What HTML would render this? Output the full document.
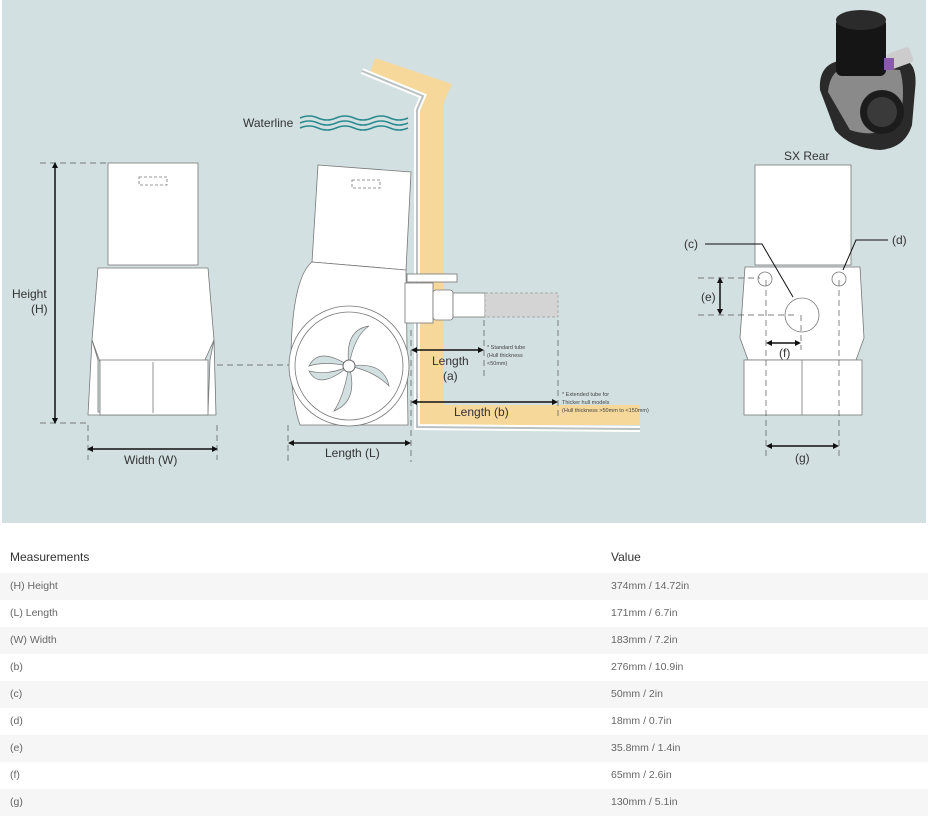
<!DOCTYPE html>
<html><head><meta charset="utf-8"><style>
body{margin:0;width:928px;height:820px;background:#fff;font-family:"Liberation Sans",sans-serif;overflow:hidden}
.tbl{position:absolute;left:0;top:543px;width:928px}
.row{height:27px;line-height:27px;font-size:10.5px;color:#666;position:relative}
.row span{position:absolute;left:10px}
.row b{position:absolute;left:611px;font-weight:normal}
.sh{background:#f6f6f6}
.hd{font-size:12px;color:#333;height:30px;line-height:28px}
</style></head><body>
<svg width="928" height="524" style="position:absolute;left:0;top:0" font-family="Liberation Sans, sans-serif">
<rect x="2" y="0" width="924" height="523" fill="#d3e0e1"/>
<!-- hull yellow band -->
<polygon points="375,58 452,84 444,102 444,405 640,405 640,425 419,425 419,96 370,72" fill="#f5d89a"/>
<polyline points="362,71 423,96 417,110 417,427 640,429" fill="none" stroke="#fff" stroke-width="6"/>
<polyline points="362,71 423,96 417,110 417,427 640,429" fill="none" stroke="#b8c0c2" stroke-width="2"/>
<!-- waves -->
<g fill="none" stroke="#2a8a8f" stroke-width="1.6">
<path d="M300,118 q9,-4 18,0 t18,0 t18,0 t18,0 t18,0 t18,0"/>
<path d="M300,123 q9,-4 18,0 t18,0 t18,0 t18,0 t18,0 t18,0"/>
<path d="M300,128 q9,-4 18,0 t18,0 t18,0 t18,0 t18,0 t18,0"/>
</g>
<text x="243" y="127" font-size="12" fill="#333">Waterline</text>
<!-- left view -->
<g stroke="#777" stroke-width="0.8" fill="#fff">
<rect x="108" y="163" width="90" height="102"/>
<path d="M98,268 L208,268 L214,340 L204,362 L100,362 L92,340 Z"/>
<path d="M92,340 L98,360 L98,412 L208,412 L210,360 L214,340 L216,415 L88,415 Z"/>
<rect x="100" y="360" width="108" height="55"/>
</g>
<rect x="139" y="177" width="28" height="8" fill="none" stroke="#777" stroke-dasharray="3,2" stroke-width="0.8"/>
<line x1="153" y1="362" x2="153" y2="413" stroke="#777" stroke-width="0.8"/>
<g stroke="#555" stroke-width="0.7" stroke-dasharray="6,4">
<line x1="40" y1="163" x2="108" y2="163"/><line x1="40" y1="423" x2="88" y2="423"/>
<line x1="88" y1="425" x2="88" y2="460"/><line x1="217" y1="425" x2="217" y2="460"/>
<line x1="217" y1="365" x2="300" y2="365"/>
</g>
<g stroke="#111" stroke-width="1.5"><line x1="55" y1="166" x2="55" y2="420"/><line x1="91" y1="449" x2="214" y2="449"/></g>
<g fill="#111"><path d="M55,162 l-3,6 h6z"/><path d="M55,424 l-3,-6 h6z"/><path d="M87,449 l6,-3 v6z"/><path d="M218,449 l-6,-3 v6z"/></g>
<text x="12" y="298" font-size="12" fill="#333">Height</text><text x="31" y="313" font-size="12" fill="#333">(H)</text>
<text x="124" y="464" font-size="12" fill="#333">Width (W)</text>
<!-- middle view -->
<g stroke="#777" stroke-width="0.8" fill="#fff">
<polygon points="318,165 411,172 406,270 312,262"/>
<path d="M312,262 L406,270 L408,425 L300,425 Q288,390 292,330 Q296,275 312,262Z"/>
<circle cx="349" cy="366" r="60"/>
<circle cx="349" cy="366" r="54"/>
<rect x="405" y="283" width="28" height="40"/>
<rect x="433" y="290" width="20" height="30" rx="3"/>
<rect x="453" y="293" width="32" height="24"/>
<rect x="407" y="274" width="50" height="8"/>
</g>
<rect x="485" y="293" width="73" height="24" fill="#d4d4d4" stroke="#999" stroke-dasharray="3,2" stroke-width="0.7"/>
<rect x="352" y="180" width="28" height="8" fill="none" stroke="#777" stroke-dasharray="3,2" stroke-width="0.8"/>
<g fill="#d3e0e1" stroke="#777" stroke-width="0.7">
<path d="M349,366 q-30,-20 -40,0 q15,-5 40,0z"/>
<path d="M349,366 q-5,-36 20,-40 q-15,10 -20,40z"/>
<path d="M349,366 q35,-5 40,20 q-15,-15 -40,-20z"/>
<path d="M349,366 q10,35 -15,45 q10,-15 15,-45z"/>
<path d="M349,366 q-30,25 -40,5 q20,5 40,-5z"/>
</g>
<circle cx="349" cy="366" r="6" fill="#fff" stroke="#666"/>
<g stroke="#555" stroke-width="0.7" stroke-dasharray="6,4">
<line x1="288" y1="425" x2="288" y2="462"/><line x1="411" y1="330" x2="411" y2="462"/>
<line x1="484" y1="320" x2="484" y2="378"/><line x1="558" y1="320" x2="558" y2="420"/>
</g>
<g stroke="#111" stroke-width="1.5"><line x1="414" y1="350" x2="481" y2="350"/><line x1="414" y1="402" x2="554" y2="402"/><line x1="292" y1="443" x2="407" y2="443"/></g>
<g fill="#111"><path d="M411,350 l6,-3 v6z"/><path d="M484,350 l-6,-3 v6z"/><path d="M411,402 l6,-3 v6z"/><path d="M558,402 l-6,-3 v6z"/><path d="M288,443 l6,-3 v6z"/><path d="M411,443 l-6,-3 v6z"/></g>
<text x="432" y="365" font-size="12" fill="#333">Length</text><text x="443" y="380" font-size="12" fill="#333">(a)</text>
<text x="454" y="416" font-size="12" fill="#333">Length (b)</text>
<text x="325" y="457" font-size="12" fill="#333">Length (L)</text>
<g font-size="5.5" fill="#444"><text x="487" y="349">* Standard tube</text><text x="487" y="357">(Hull thickness</text><text x="487" y="365">&lt;50mm)</text>
<text x="562" y="396">* Extended tube for</text><text x="562" y="404">Thicker hull models</text><text x="562" y="412">(Hull thickness &gt;50mm to &lt;150mm)</text></g>
<!-- right view -->
<text x="784" y="160" font-size="12" fill="#333">SX Rear</text>
<g stroke="#777" stroke-width="0.8" fill="#fff">
<rect x="755" y="165" width="96" height="100"/>
<path d="M745,267 L860,267 L864,338 L856,360 L748,360 L740,338 Z"/>
<rect x="744" y="360" width="118" height="55"/>
<circle cx="765" cy="279" r="7"/><circle cx="839" cy="279" r="7"/><circle cx="802" cy="315" r="17"/>
</g>
<line x1="802" y1="360" x2="802" y2="415" stroke="#777" stroke-width="0.8"/>
<g stroke="#555" stroke-width="0.7" stroke-dasharray="6,4">
<line x1="766" y1="280" x2="766" y2="460"/><line x1="839" y1="280" x2="839" y2="460"/>
<line x1="801" y1="315" x2="801" y2="350"/>
<line x1="698" y1="278" x2="760" y2="278"/><line x1="698" y1="315" x2="795" y2="315"/>
</g>
<g stroke="#111" stroke-width="1.5" fill="none">
<line x1="720" y1="281" x2="720" y2="311"/><line x1="769" y1="343" x2="798" y2="343"/><line x1="769" y1="446" x2="835" y2="446"/>
<polyline points="705,244 762,244 793,297" stroke-width="1"/><polyline points="888,240 856,240 843,270" stroke-width="1"/>
</g>
<g fill="#111"><path d="M720,277 l-3,6 h6z"/><path d="M720,315 l-3,-6 h6z"/><path d="M766,343 l6,-3 v6z"/><path d="M801,343 l-6,-3 v6z"/><path d="M766,446 l6,-3 v6z"/><path d="M839,446 l-6,-3 v6z"/></g>
<g font-size="12" fill="#333"><text x="684" y="248">(c)</text><text x="892" y="244">(d)</text><text x="701" y="301">(e)</text><text x="779" y="357">(f)</text><text x="795" y="462">(g)</text></g>
<!-- 3D render -->
<path d="M820,90 Q818,62 845,60 L905,60 Q918,65 915,90 L912,125 Q905,148 880,150 Q850,148 835,130 Z" fill="#2a2a2a"/>
<path d="M828,92 Q830,68 850,66 L900,70 Q906,90 900,120 Q880,140 850,130 Z" fill="#8a8a8a"/>
<circle cx="882" cy="112" r="22" fill="#1c1c1c"/><circle cx="882" cy="112" r="15" fill="#3a3a3a"/>
<rect x="836" y="18" width="50" height="58" rx="6" fill="#151515"/>
<ellipse cx="861" cy="20" rx="25" ry="10" fill="#2b2b2b"/>
<rect x="888" y="50" width="24" height="16" rx="3" fill="#ccc" transform="rotate(-20 900 58)"/>
<rect x="884" y="58" width="10" height="12" fill="#8a5aa8"/>
</svg>
<div class="tbl">
<div class="row hd"><span>Measurements</span><b>Value</b></div>
<div class="row sh"><span>(H) Height</span><b>374mm / 14.72in</b></div>
<div class="row"><span>(L) Length</span><b>171mm / 6.7in</b></div>
<div class="row sh"><span>(W) Width</span><b>183mm / 7.2in</b></div>
<div class="row"><span>(b)</span><b>276mm / 10.9in</b></div>
<div class="row sh"><span>(c)</span><b>50mm / 2in</b></div>
<div class="row"><span>(d)</span><b>18mm / 0.7in</b></div>
<div class="row sh"><span>(e)</span><b>35.8mm / 1.4in</b></div>
<div class="row"><span>(f)</span><b>65mm / 2.6in</b></div>
<div class="row sh"><span>(g)</span><b>130mm / 5.1in</b></div>
</div>
</body></html>
